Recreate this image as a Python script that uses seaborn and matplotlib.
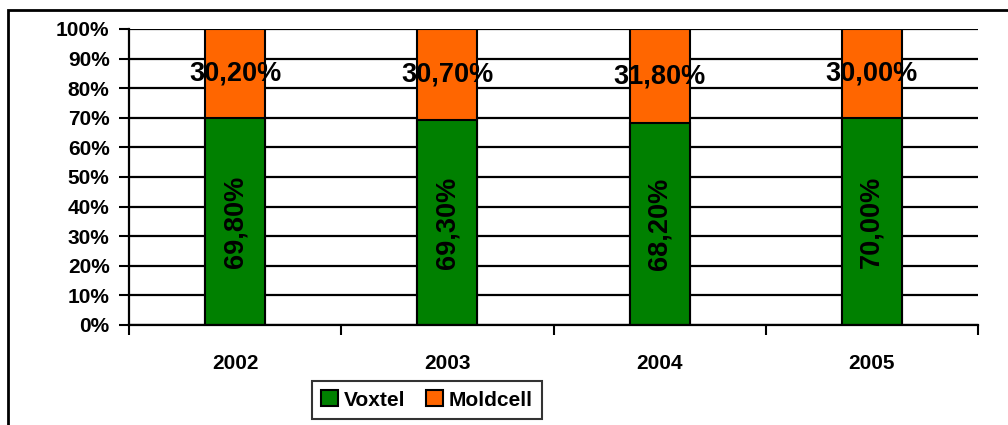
"""Stacked share chart: Voxtel vs Moldcell"""

import matplotlib
matplotlib.use('Agg')
import matplotlib.pyplot as plt
from matplotlib.patches import Patch, Rectangle
from matplotlib.ticker import FixedLocator
import pandas as pd
import seaborn as sns

# Data
years = ['2002', '2003', '2004', '2005']
voxtel = [69.8, 69.3, 68.2, 70.0]
moldcell = [30.2, 30.7, 31.8, 30.0]
y_ticks = list(range(0, 101, 10))

GREEN = '#008000'
ORANGE = '#FF6600'

sns.set_style('white')
plt.rcParams['font.family'] = ['Liberation Sans', 'DejaVu Sans']
plt.rcParams['font.weight'] = 'bold'
for key in ['text.color', 'xtick.color', 'ytick.color', 'axes.labelcolor',
            'axes.edgecolor', 'legend.labelcolor']:
    plt.rcParams[key] = 'black'

df = pd.DataFrame({'year': years, 'voxtel': voxtel, 'moldcell': moldcell})
df['total'] = df['voxtel'] + df['moldcell']

fig = plt.figure(figsize=(10.08, 4.25), dpi=100)
ax = fig.add_axes([129 / 1008, 1 - 325 / 425, (978 - 129) / 1008, (325 - 29) / 425])

# outer frame (runs off the right and bottom edges)
fig.patches.append(Rectangle((8 / 1008, -0.1), 1.2, 1 - 10 / 425 + 0.1,
                             transform=fig.transFigure, fill=False,
                             edgecolor='black', linewidth=2, zorder=0))

# gridlines
for t in y_ticks:
    ax.axhline(t, color='black', linewidth=1.6, zorder=1)

# stacked bars: total in orange, voxtel in green on top of it
sns.barplot(data=df, x='year', y='total', color=ORANGE, width=0.283,
            edgecolor='black', linewidth=1.5, saturation=1, ax=ax, zorder=2)
sns.barplot(data=df, x='year', y='voxtel', color=GREEN, width=0.283,
            edgecolor='black', linewidth=1.5, saturation=1, ax=ax, zorder=3)

for i, row in df.iterrows():
    ax.text(i, row['voxtel'] / 2, f"{row['voxtel']:.2f}%".replace('.', ','),
            rotation=90, ha='center', va='center', fontsize=19.5,
            fontweight='bold', color='black', zorder=4)
    ax.text(i, row['voxtel'] + row['moldcell'] / 2,
            f"{row['moldcell']:.2f}%".replace('.', ','),
            ha='center', va='center', fontsize=19.5, fontweight='bold',
            color='black', zorder=4)

ax.set_xlim(-0.5, len(years) - 0.5)
ax.set_ylim(0, 100)
ax.set_xlabel('')
ax.set_ylabel('')

ax.set_yticks(y_ticks)
ax.set_yticklabels([f'{t}%' for t in y_ticks], fontsize=15, fontweight='bold')
ax.tick_params(axis='y', length=7, width=1.5, pad=7, left=True, colors='black')

# x: tick marks at category edges, labels at category centres
ax.xaxis.set_major_locator(FixedLocator([i - 0.5 for i in range(len(years) + 1)]))
ax.xaxis.set_minor_locator(FixedLocator(range(len(years))))
ax.set_xticklabels([''] * (len(years) + 1))
ax.set_xticklabels(years, minor=True, fontsize=15, fontweight='bold')
ax.tick_params(axis='x', which='major', length=7, width=1.5, bottom=True, colors='black')
ax.tick_params(axis='x', which='minor', length=0, pad=21, colors='black')

for side in ['top', 'right']:
    ax.spines[side].set_visible(False)
for side in ['left', 'bottom']:
    ax.spines[side].set_color('black')
    ax.spines[side].set_linewidth(1.6)
    ax.spines[side].set_zorder(5)

handles = [Patch(facecolor=GREEN, edgecolor='black', linewidth=1.5, label='Voxtel'),
           Patch(facecolor=ORANGE, edgecolor='black', linewidth=1.5, label='Moldcell')]
leg = fig.legend(handles=handles, loc='center', bbox_to_anchor=(427 / 1008, 1 - 400 / 425),
                 ncol=2, frameon=True, fancybox=False,
                 handlelength=0.8, handleheight=0.8, handletextpad=0.3,
                 columnspacing=1.0, borderpad=0.45, prop={'weight': 'bold', 'size': 15})
leg.get_frame().set_edgecolor('black')
leg.get_frame().set_linewidth(1.5)
for txt in leg.get_texts():
    txt.set_color('black')

fig.savefig('out.png', dpi=100)
